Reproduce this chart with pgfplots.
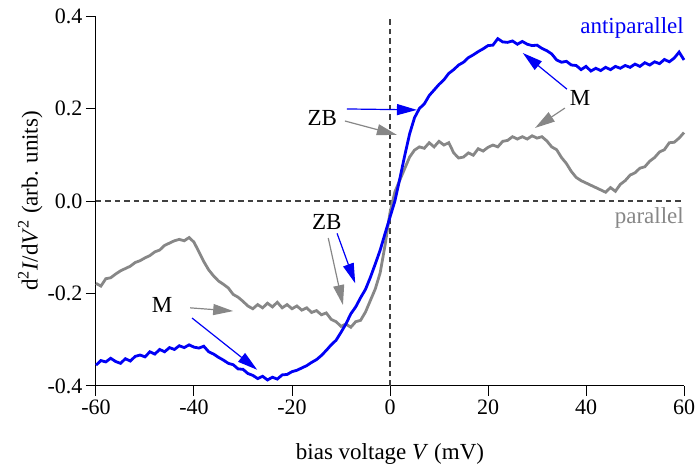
\documentclass[border=0pt]{standalone}
\usepackage{fontspec}
\setmainfont{Liberation Serif}
\usepackage{pgfplots}
\pgfplotsset{compat=1.18}
\usepackage{pgfplotstable}
\usetikzlibrary{arrows.meta}
\definecolor{apblue}{RGB}{0,0,245}
\definecolor{pgray}{RGB}{135,135,135}

% antiparallel
\pgfplotstableread{
V y
-60 -0.355
-59 -0.345
-58 -0.348
-57 -0.340
-56 -0.347
-55 -0.351
-54 -0.341
-53 -0.346
-52 -0.336
-51 -0.333
-50 -0.337
-49 -0.326
-48 -0.331
-47 -0.321
-46 -0.326
-45 -0.317
-44 -0.321
-43 -0.313
-42 -0.317
-41 -0.311
-40 -0.316
-39 -0.318
-38 -0.314
-37 -0.326
-36 -0.331
-35 -0.338
-34 -0.344
-33 -0.351
-32 -0.354
-31 -0.363
-30 -0.364
-29 -0.373
-28 -0.377
-27 -0.384
-26 -0.379
-25 -0.387
-24 -0.381
-23 -0.385
-22 -0.376
-21 -0.375
-20 -0.369
-19 -0.366
-18 -0.361
-17 -0.356
-16 -0.349
-15 -0.343
-14 -0.334
-13 -0.323
-12 -0.311
-11 -0.301
-10 -0.284
-9 -0.266
-8 -0.244
-7 -0.229
-6 -0.209
-5 -0.191
-4 -0.165
-3 -0.136
-2 -0.106
-1 -0.070
0 -0.035
1 0.000
2 0.048
3 0.098
4 0.145
5 0.180
6 0.200
7 0.210
8 0.228
9 0.240
10 0.252
11 0.262
12 0.276
13 0.284
14 0.294
15 0.300
16 0.310
17 0.316
18 0.323
19 0.329
20 0.336
21 0.337
22 0.351
23 0.344
24 0.343
25 0.346
26 0.339
27 0.345
28 0.339
29 0.336
30 0.337
31 0.330
32 0.325
33 0.318
34 0.305
35 0.300
36 0.302
37 0.294
38 0.293
39 0.284
40 0.291
41 0.281
42 0.287
43 0.282
44 0.289
45 0.284
46 0.291
47 0.287
48 0.293
49 0.289
50 0.296
51 0.291
52 0.299
53 0.294
54 0.301
55 0.297
56 0.306
57 0.301
58 0.309
59 0.322
60 0.305
}\antiparallel

% parallel
\pgfplotstableread{
V y
-60 -0.178
-59 -0.184
-58 -0.168
-57 -0.166
-56 -0.158
-55 -0.151
-54 -0.146
-53 -0.141
-52 -0.133
-51 -0.129
-50 -0.123
-49 -0.118
-48 -0.110
-47 -0.106
-46 -0.096
-45 -0.091
-44 -0.086
-43 -0.083
-42 -0.086
-41 -0.079
-40 -0.089
-39 -0.110
-38 -0.131
-37 -0.149
-36 -0.162
-35 -0.173
-34 -0.180
-33 -0.188
-32 -0.202
-31 -0.208
-30 -0.217
-29 -0.227
-28 -0.233
-27 -0.224
-26 -0.231
-25 -0.221
-24 -0.229
-23 -0.219
-22 -0.231
-21 -0.224
-20 -0.233
-19 -0.227
-18 -0.236
-17 -0.231
-16 -0.241
-15 -0.237
-14 -0.246
-13 -0.242
-12 -0.256
-11 -0.261
-10 -0.271
-9 -0.266
-8 -0.273
-7 -0.261
-6 -0.258
-5 -0.240
-4 -0.215
-3 -0.190
-2 -0.155
-1 -0.095
0 -0.025
1 0.020
2 0.045
3 0.070
4 0.095
5 0.110
6 0.117
7 0.114
8 0.126
9 0.117
10 0.129
11 0.121
12 0.126
13 0.104
14 0.093
15 0.095
16 0.104
17 0.099
18 0.113
19 0.108
20 0.116
21 0.121
22 0.117
23 0.129
24 0.131
25 0.139
26 0.134
27 0.139
28 0.134
29 0.141
30 0.136
31 0.139
32 0.130
33 0.117
34 0.111
35 0.094
36 0.081
37 0.064
38 0.051
39 0.044
40 0.039
41 0.034
42 0.029
43 0.024
44 0.019
45 0.029
46 0.021
47 0.036
48 0.044
49 0.056
50 0.061
51 0.071
52 0.074
53 0.086
54 0.094
55 0.106
56 0.111
57 0.126
58 0.127
59 0.136
60 0.148
}\parallel

\begin{document}
\begin{tikzpicture}[font=\fontsize{23}{27}\selectfont,
  arr/.style={line width=1.2pt, -{Triangle[length=20pt,width=11pt]}}]
\begin{axis}[
  scale only axis, width=588pt, height=370pt,
  xmin=-60, xmax=60, ymin=-0.4, ymax=0.4,
  axis x line=bottom, axis y line=left,
  axis line style={-, line width=1pt},
  tick align=outside, major tick length=10pt,
  tick style={black, line width=1pt},
  xtick={-60,-40,-20,0,20,40,60},
  ytick={-0.4,-0.2,0,0.2,0.4},
  /pgf/number format/assume math mode=true,
  ticklabel style={font=\fontsize{22}{26}\selectfont},
  xticklabel style={inner xsep=0pt},
  yticklabel style={/pgf/number format/.cd, fixed, fixed zerofill, precision=1},
  xlabel={bias voltage \textit{V} (mV)},
  ylabel={d\textsuperscript{2}\textit{I}/d\textit{V}\textsuperscript{2} (arb. units)},
  xlabel style={at={(axis description cs:0.5,-0.183)}, anchor=center},
  ylabel style={at={(axis description cs:-0.112,0.5)}, anchor=center},
  clip=false,
]
\draw[black!75, line width=1.6pt, dash pattern=on 5.5pt off 4pt] (axis cs:-60,0) -- (axis cs:60,0);
\draw[black!75, line width=1.6pt, dash pattern=on 5.5pt off 4pt] (axis cs:0,-0.4) -- (axis cs:0,0.4);

\addplot[pgray, line width=2.8pt] table[x=V, y=y] {\parallel};
\addplot[apblue, line width=2.8pt] table[x=V, y=y] {\antiparallel};

\node[apblue, anchor=east, inner xsep=0pt] at (axis cs:60,0.374) {antiparallel};
\node[pgray, anchor=east, inner xsep=0pt] at (axis cs:60,-0.037) {parallel};

% ZB upper
\node at (axis cs:-13.8,0.18) {ZB};
\draw[arr, apblue] (axis cs:-8.8,0.199) -- (axis cs:5.5,0.197);
\draw[arr, pgray] (axis cs:-9.2,0.173) -- (axis cs:1.4,0.143);
% ZB lower
\node at (axis cs:-12.9,-0.045) {ZB};
\draw[arr, apblue] (axis cs:-10.8,-0.07) -- (axis cs:-7.1,-0.178);
\draw[arr, pgray] (axis cs:-12.6,-0.08) -- (axis cs:-9.6,-0.225);
% M lower left
\node at (axis cs:-46.5,-0.225) {M};
\draw[arr, pgray] (axis cs:-40.8,-0.231) -- (axis cs:-32,-0.238);
\draw[arr, apblue] (axis cs:-40.4,-0.253) -- (axis cs:-27.1,-0.365);
% M upper right
\node at (axis cs:38.8,0.223) {M};
\draw[arr, apblue] (axis cs:36.1,0.242) -- (axis cs:27.1,0.32);
\draw[arr, pgray] (axis cs:35.7,0.201) -- (axis cs:29.6,0.158);

% page frame to match the reference margins
\path (rel axis cs:0,0) ++(-96pt,-85pt);
\path (rel axis cs:1,1) ++(11pt,16pt);
\end{axis}
\end{tikzpicture}
\end{document}
